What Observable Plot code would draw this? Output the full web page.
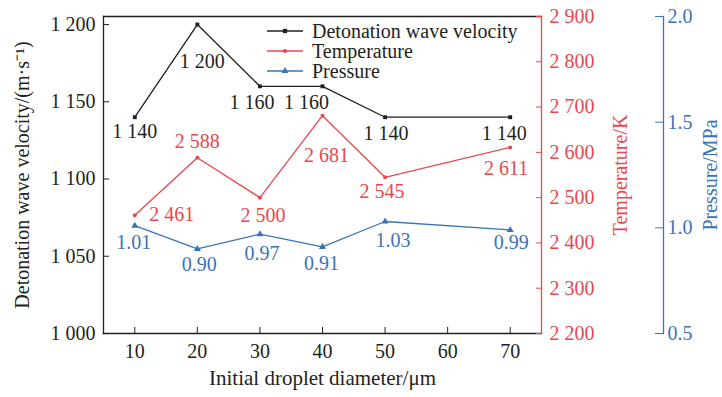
<!DOCTYPE html>
<html><head><meta charset="utf-8">
<script src="https://cdn.jsdelivr.net/npm/d3@7"></script>
<script src="https://cdn.jsdelivr.net/npm/@observablehq/plot@0.6"></script>
<style>
html,body{margin:0;padding:0;background:#fff;}
#wrap{position:relative;width:722px;height:397px;overflow:hidden;}
#wrap svg.legend{position:absolute;left:0;top:0;}
</style></head><body><div id="wrap"></div>
<script>
// ---- data ----
const diameters = [10, 20, 30, 40, 50, 70];
const velocity = [1140, 1200, 1160, 1160, 1140, 1140];
const temperature = [2461, 2588, 2500, 2681, 2545, 2611];
const pressure = [1.01, 0.90, 0.97, 0.91, 1.03, 0.99];
const xTicks = [10, 20, 30, 40, 50, 60, 70];
const velTicks = [1000, 1050, 1100, 1150, 1200];
const tempTicks = [2200, 2300, 2400, 2500, 2600, 2700, 2800, 2900];
const presTicks = [0.5, 1.0, 1.5, 2.0];
const seriesNames = ["Detonation wave velocity", "Temperature", "Pressure"];
const xTitle = "Initial droplet diameter/\u03bcm";
const yTitles = ["Detonation wave velocity/(m\u00b7s\u207b\u00b9)", "Temperature/K", "Pressure/MPa"];

// ---- styling (label offsets in px, not data) ----
const BLACK = "#231f20", RED = "#e8474c", BLUE = "#3a73b8";
const FONT = '"Liberation Serif", "Times New Roman", serif';
const velOff = [[0,14],[5,37],[-8,16],[-16,16],[1,16],[-6,16]];
const tempOff = [[37,-1],[0,-16],[3,18],[4,40],[-3,14],[-4,21]];
const presOff = [[-1,17],[2,16],[2,19],[-1,17],[8,19],[1,13]];

// ---- secondary-axis mapping onto the primary y scale ----
const V0 = 1000, V1 = 1205.2;
const tToV = t => V0 + (t - 2200) / 700 * (V1 - V0);
const vToT = v => 2200 + (v - V0) / (V1 - V0) * 700;
const pToV = p => V0 + (p - 0.5) / 1.5 * (V1 - V0);
const vToP = v => 0.5 + (v - V0) / (V1 - V0) * 1.5;
const fmtK = v => d3.format(",")(v).replace(/,/g, " ");

const rows = diameters.map((d, i) => ({i, d, v: velocity[i], t: temperature[i], p: pressure[i]}));

const labelMarks = [];
rows.forEach((r, i) => {
  labelMarks.push(Plot.text([r], {x: "d", y: "v", text: d => fmtK(d.v), fill: BLACK, fontSize: 20, dx: velOff[i][0], dy: velOff[i][1]}));
  labelMarks.push(Plot.text([r], {x: "d", y: d => tToV(d.t), text: d => fmtK(d.t), fill: RED, fontSize: 20, dx: tempOff[i][0], dy: tempOff[i][1]}));
  labelMarks.push(Plot.text([r], {x: "d", y: d => pToV(d.p), text: d => d.p.toFixed(2), fill: BLUE, fontSize: 20, dx: presOff[i][0], dy: presOff[i][1]}));
});

const chart = Plot.plot({
  width: 722, height: 397,
  marginLeft: 103, marginRight: 181, marginTop: 16, marginBottom: 64,
  style: {fontFamily: FONT, fontSize: "20px", background: "#fff", color: BLACK},
  x: {domain: [5, 75]},
  y: {domain: [V0, V1]},
  marks: [
    Plot.frame({anchor: "left", stroke: BLACK, strokeWidth: 1.3}),
    Plot.frame({anchor: "top", stroke: BLACK, strokeWidth: 1.3}),
    Plot.frame({anchor: "bottom", stroke: BLACK, strokeWidth: 1.3}),
    Plot.frame({anchor: "right", stroke: RED, strokeWidth: 1.3}),
    Plot.frame({anchor: "right", stroke: BLUE, strokeWidth: 1.3, dx: 122}),
    Plot.axisX(xTicks, {anchor: "bottom", tickSize: -6, tickPadding: 16, label: null, color: BLACK, fontSize: 20}),
    Plot.axisY(velTicks, {anchor: "left", tickSize: -6, tickPadding: 14, label: null, tickFormat: fmtK, color: BLACK, fontSize: 20}),
    Plot.axisY(tempTicks.map(tToV), {anchor: "right", tickSize: -6, tickPadding: 14, label: null,
      tickFormat: v => fmtK(Math.round(vToT(v))), color: RED, fontSize: 20}),
    Plot.axisY(presTicks.map(pToV), {anchor: "right", dx: 122, tickSize: -9, tickPadding: 13, label: null,
      tickFormat: v => vToP(v).toFixed(1), color: BLUE, fontSize: 20}),
    Plot.line(rows, {x: "d", y: "v", stroke: BLACK, strokeWidth: 1.3}),
    Plot.line(rows, {x: "d", y: d => tToV(d.t), stroke: RED, strokeWidth: 1.3}),
    Plot.line(rows, {x: "d", y: d => pToV(d.p), stroke: BLUE, strokeWidth: 1.3}),
    Plot.dot(rows, {x: "d", y: "v", symbol: "square", r: 2.2, fill: BLACK}),
    Plot.dot(rows, {x: "d", y: d => tToV(d.t), symbol: "circle", r: 2, fill: RED}),
    Plot.dot(rows, {x: "d", y: d => pToV(d.p), symbol: "triangle", r: 2.6, fill: BLUE}),
    ...labelMarks,
    Plot.text([yTitles[0]], {frameAnchor: "left", textAnchor: "middle", lineAnchor: "middle", dx: -81, rotate: -90, fill: BLACK, fontSize: 20}),
    Plot.text([yTitles[1]], {frameAnchor: "right", textAnchor: "middle", lineAnchor: "middle", dx: 79, rotate: -90, fill: RED, fontSize: 20}),
    Plot.text([yTitles[2]], {frameAnchor: "right", textAnchor: "middle", lineAnchor: "middle", dx: 169, rotate: -90, fill: BLUE, fontSize: 20}),
    Plot.text([xTitle], {frameAnchor: "bottom", textAnchor: "middle", lineAnchor: "middle", dy: 45, fill: BLACK, fontSize: 21})
  ]
});
const wrap = document.getElementById("wrap");
wrap.appendChild(chart);

// ---- legend (inside plot, top) ----
const colors = [BLACK, RED, BLUE];
const shapes = [d3.symbolSquare, d3.symbolCircle, d3.symbolTriangle];
const sizes = [18, 14, 20];
const lg = d3.select(wrap).append("svg").attr("class", "legend").attr("width", 722).attr("height", 397);
seriesNames.forEach((name, i) => {
  const y = 31 + i * 20;
  const g = lg.append("g");
  g.append("line").attr("x1", 267).attr("x2", 303).attr("y1", y).attr("y2", y)
    .attr("stroke", colors[i]).attr("stroke-width", 1.3);
  g.append("path").attr("d", d3.symbol(shapes[i], sizes[i])()).attr("transform", `translate(285,${y})`).attr("fill", colors[i]);
  g.append("text").attr("x", 312).attr("y", y).attr("dy", "0.33em").attr("fill", BLACK)
    .style("font-family", FONT).style("font-size", "20px").text(name);
});
</script></body></html>
